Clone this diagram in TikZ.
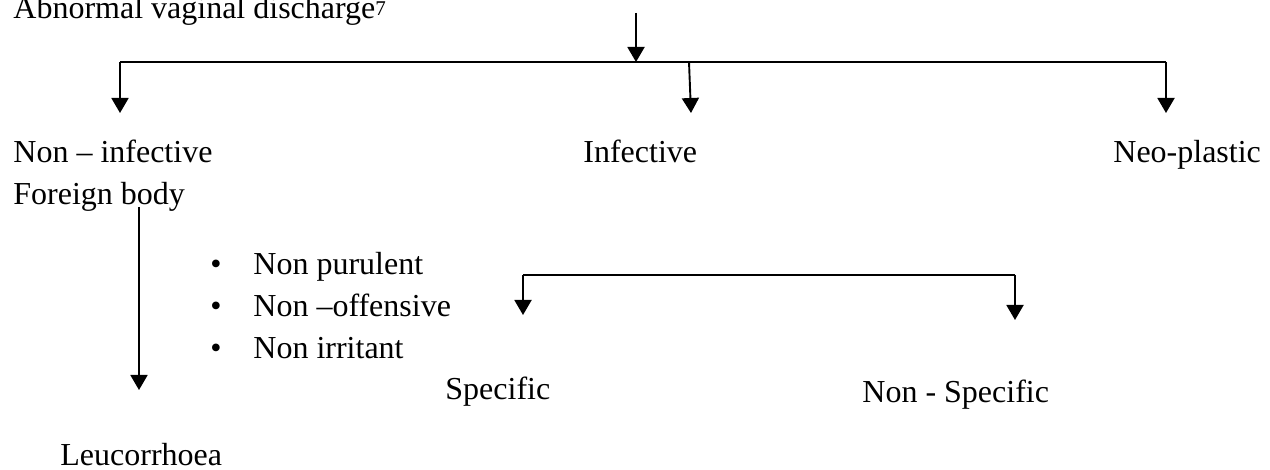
\documentclass[tikz,border=0pt]{standalone}
\usepackage{fontspec}
\setmainfont{Liberation Serif}
\usetikzlibrary{arrows.meta}

\begin{document}
\begin{tikzpicture}[
  x=0.5pt, y=-0.5pt,
  every node/.style={inner sep=0pt, anchor=base west, font=\fontsize{16}{19}\selectfont},
  branch/.style={line width=0.95pt, -{Triangle[width=8.5pt,length=7.5pt]}},
  rail/.style={line width=0.8pt}
]
\useasboundingbox (0,0) rectangle (1270,470);

\node (title)   at (13,19)   {Abnormal vaginal discharge\raisebox{1.5pt}{\fontsize{10.5}{10.5}\selectfont 7}};
\node (noninf)  at (13,163)  {Non – infective};
\node (infect)  at (583,163) {Infective};
\node (neo)     at (1113,163) {Neo-plastic};
\node (foreign) at (13,205)  {Foreign body};
\node (spec)    at (445,400) {Specific};
\node (nonspec) at (862,402) {Non - Specific};
\node (leuc)    at (60,466)  {Leucorrhoea};

\foreach \txt/\yy [count=\i] in {Non purulent/275, Non –offensive/317, Non irritant/359} {
  \node (dot\i)  at (210,\yy) {\textbullet};
  \node (item\i) at (253,\yy) {\txt};
}

% main split
\coordinate (src)   at (636,13);
\coordinate (hub)   at (636,62);
\coordinate (lbar)  at (120,62);
\coordinate (rbar)  at (1166,62);
\coordinate (mtop)  at (689,62);
\coordinate (ltip)  at (120,113);
\coordinate (mtip)  at (691,113);
\coordinate (rtip)  at (1166,113);
\draw[branch] (src) -- (hub);
\draw[rail] (lbar) -- (rbar);
\draw[branch] (lbar) -- (ltip);
\draw[branch] (mtop) -- (mtip);
\draw[branch] (rbar) -- (rtip);

% foreign body down to leucorrhoea
\coordinate (ftop) at (139,207);
\coordinate (ftip) at (139,390);
\draw[branch] (ftop) -- (ftip);

% specific / non-specific split
\coordinate (sbarl) at (523,275);
\coordinate (sbarr) at (1015,275);
\coordinate (stip)  at (523,315);
\coordinate (nstip) at (1015,320);
\draw[rail] (sbarl) -- (sbarr);
\draw[branch] (sbarl) -- (stip);
\draw[branch] (sbarr) -- (nstip);
\end{tikzpicture}
\end{document}
